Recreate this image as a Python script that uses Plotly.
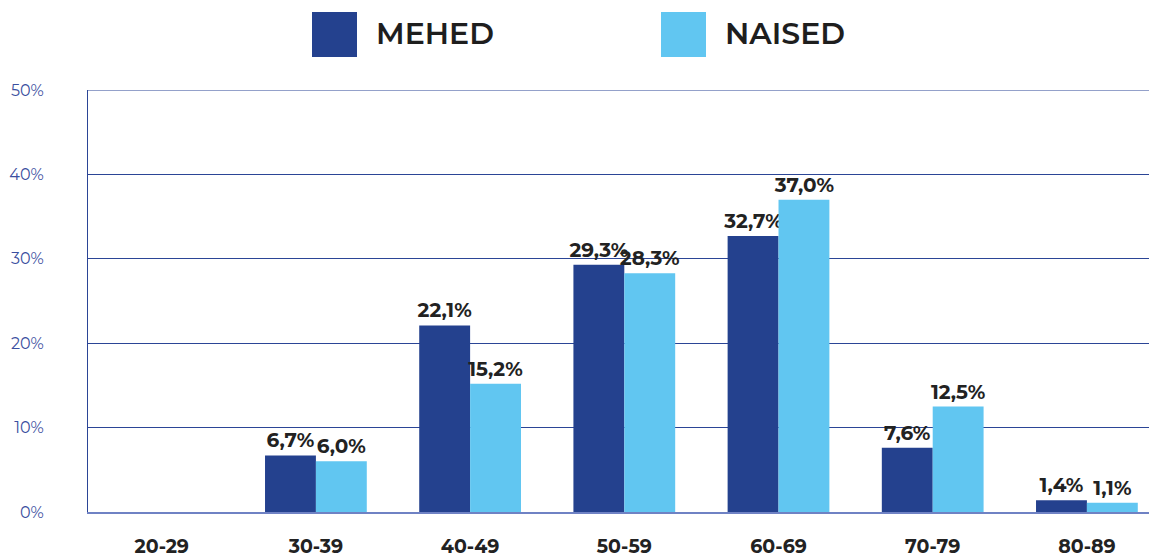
import plotly.graph_objects as go

categories = ["20-29", "30-39", "40-49", "50-59", "60-69", "70-79", "80-89"]
mehed = [None, 6.7, 22.1, 29.3, 32.7, 7.6, 1.4]
naised = [None, 6.0, 15.2, 28.3, 37.0, 12.5, 1.1]
series_names = ["MEHED", "NAISED"]
colors = ["#24418E", "#61C6F1"]
y_ticks = [0, 10, 20, 30, 40, 50]

FONT = "Montserrat, Inter, Lato, sans-serif"
GRID = "#2B4596"

# page body has an 8px margin; figure coordinates are screen - 8
OFF = 8
L, T, B = 88 - OFF, 90 - OFF, 46
W, H = 1157 - OFF, 558 - OFF
PW, PH = W - L, H - T - B


def fmt(v):
    return "" if v is None else (f"{v:.1f}".replace(".", ",") + "%")


fig = go.Figure()
for name, vals, col in zip(series_names, [mehed, naised], colors):
    fig.add_trace(go.Bar(
        x=categories, y=vals, name=name, marker_color=col,
        marker_line_width=0,
        text=[fmt(v) for v in vals], textposition="outside",
        constraintext="none", cliponaxis=False,
        textfont=dict(family=FONT, size=20, color="#222222", weight="bold"),
    ))

fig.update_layout(
    width=W, height=H,
    margin=dict(l=L, r=0, t=T, b=B),
    paper_bgcolor="white", plot_bgcolor="white",
    barmode="group", bargap=0.34, bargroupgap=0,
    showlegend=False,
    font=dict(family=FONT),
)
fig.update_xaxes(
    range=[-0.478, -0.478 + PW / 154.2], showgrid=False, automargin=False,
    showline=True, linecolor="#6F82C4", linewidth=1.5,
    ticks="", ticklabelstandoff=16,
    tickfont=dict(family=FONT, size=19, color="#222222", weight="bold"),
)
fig.update_yaxes(
    range=[0, max(y_ticks)], tickvals=y_ticks, ticktext=[f"{t}%" for t in y_ticks],
    showgrid=True, gridcolor=GRID, gridwidth=1, automargin=False,
    showline=True, linecolor=GRID, linewidth=1,
    zeroline=False, ticks="", ticklabelstandoff=40,
    tickfont=dict(family=FONT, size=16, color="#3B4FA0"),
)
# top gridline (at the 50% edge, which plotly drops)
fig.add_shape(type="line", xref="paper", yref="y", x0=0, x1=1,
              y0=max(y_ticks), y1=max(y_ticks), line=dict(color=GRID, width=1.2))

# legend drawn as layout decoration (screen pixel positions)
legend_items = [(312, "MEHED", colors[0]), (661, "NAISED", colors[1])]
for x0, label, col in legend_items:
    fig.add_shape(type="rect", xref="paper", yref="paper",
                  x0=(x0 - 88) / PW, x1=(x0 + 45 - 88) / PW,
                  y0=1 + (90 - 57) / PH, y1=1 + (90 - 12) / PH,
                  fillcolor=col, line_width=0)
    fig.add_annotation(xref="paper", yref="paper",
                       x=(x0 + 62 - 88) / PW, y=1 + (90 - 34) / PH,
                       xanchor="left", yanchor="middle", showarrow=False,
                       text=label,
                       font=dict(family=FONT, size=30, color="#1E1E1E", weight=600))

fig.write_html("out.html")
